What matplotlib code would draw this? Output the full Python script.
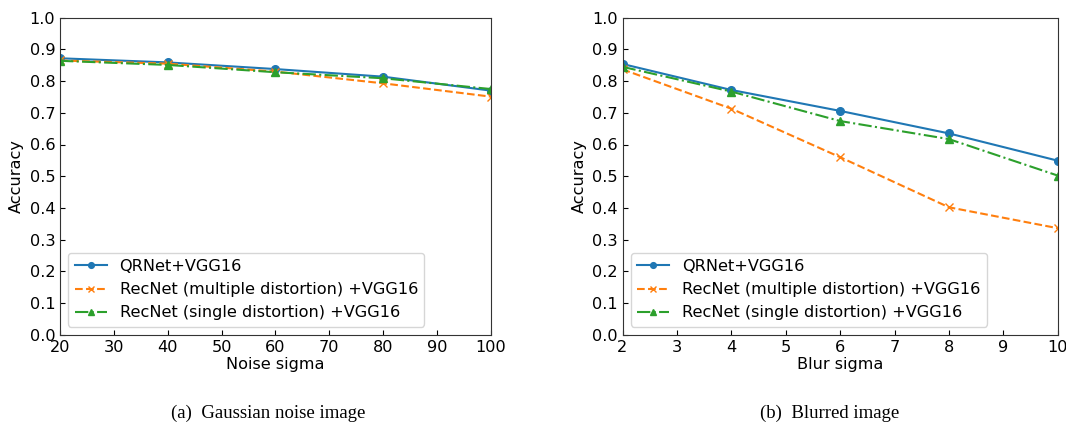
import matplotlib
matplotlib.use("Agg")
import matplotlib.pyplot as plt
import numpy as np

noise_sigma = [20, 40, 60, 80, 100]
noise_qrnet = [0.872, 0.859, 0.838, 0.814, 0.770]
noise_recnet_multi = [0.865, 0.855, 0.830, 0.793, 0.751]
noise_recnet_single = [0.864, 0.851, 0.828, 0.809, 0.775]

blur_sigma = [2, 4, 6, 8, 10]
blur_qrnet = [0.854, 0.772, 0.706, 0.635, 0.549]
blur_recnet_multi = [0.837, 0.713, 0.560, 0.402, 0.336]
blur_recnet_single = [0.845, 0.767, 0.674, 0.617, 0.502]

labels = ["QRNet+VGG16", "RecNet (multiple distortion) +VGG16", "RecNet (single distortion) +VGG16"]
captions = ["(a)  Gaussian noise image", "(b)  Blurred image"]

plt.rcParams['font.family'] = ['DejaVu Sans']
FS = 11.6

W, H = 1066, 426
fig = plt.figure(figsize=(W/100, H/100), dpi=100)

def make_ax(x0, x1, y_top, y_bot):
    return fig.add_axes([x0/W, (H-y_bot)/H, (x1-x0)/W, (y_bot-y_top)/H])

ax1 = make_ax(60, 490.7, 17.7, 334.7)
ax2 = make_ax(622.5, 1057.7, 17.7, 334.7)

c1, c2, c3 = '#1f77b4', '#ff7f0e', '#2ca02c'

def draw(ax, x, a, b, c, xlabel, xticks):
    ax.plot(x, a, color=c1, ls='-', marker='o', ms=5.5, lw=1.5, label=labels[0])
    ax.plot(x, b, color=c2, ls='--', marker='x', ms=5.5, lw=1.5, label=labels[1])
    ax.plot(x, c, color=c3, ls='-.', marker='^', ms=5.5, lw=1.5, label=labels[2])
    ax.set_xlim(xticks[0], xticks[-1])
    ax.set_ylim(0, 1.0)
    ax.set_xticks(xticks)
    ax.set_yticks(np.round(np.arange(0, 1.01, 0.1), 1))
    ax.tick_params(direction='in', labelsize=FS)
    ax.set_xlabel(xlabel, fontsize=FS, labelpad=2)
    ax.set_ylabel("Accuracy", fontsize=FS)
    for s in ax.spines.values():
        s.set_color('#333333')
    ax.legend(loc='lower left', fontsize=FS, framealpha=0.8, edgecolor='#cccccc',
              markerscale=0.75)

draw(ax1, noise_sigma, noise_qrnet, noise_recnet_multi, noise_recnet_single,
     "Noise sigma", [20, 30, 40, 50, 60, 70, 80, 90, 100])
draw(ax2, blur_sigma, blur_qrnet, blur_recnet_multi, blur_recnet_single,
     "Blur sigma", [2, 3, 4, 5, 6, 7, 8, 9, 10])

fig.text(268/W, 1 - 413/H, captions[0], ha='center', va='center',
         family='Liberation Serif', fontsize=13.5)
fig.text(830/W, 1 - 413/H, captions[1], ha='center', va='center',
         family='Liberation Serif', fontsize=13.5)

fig.savefig("out.png", dpi=100)
